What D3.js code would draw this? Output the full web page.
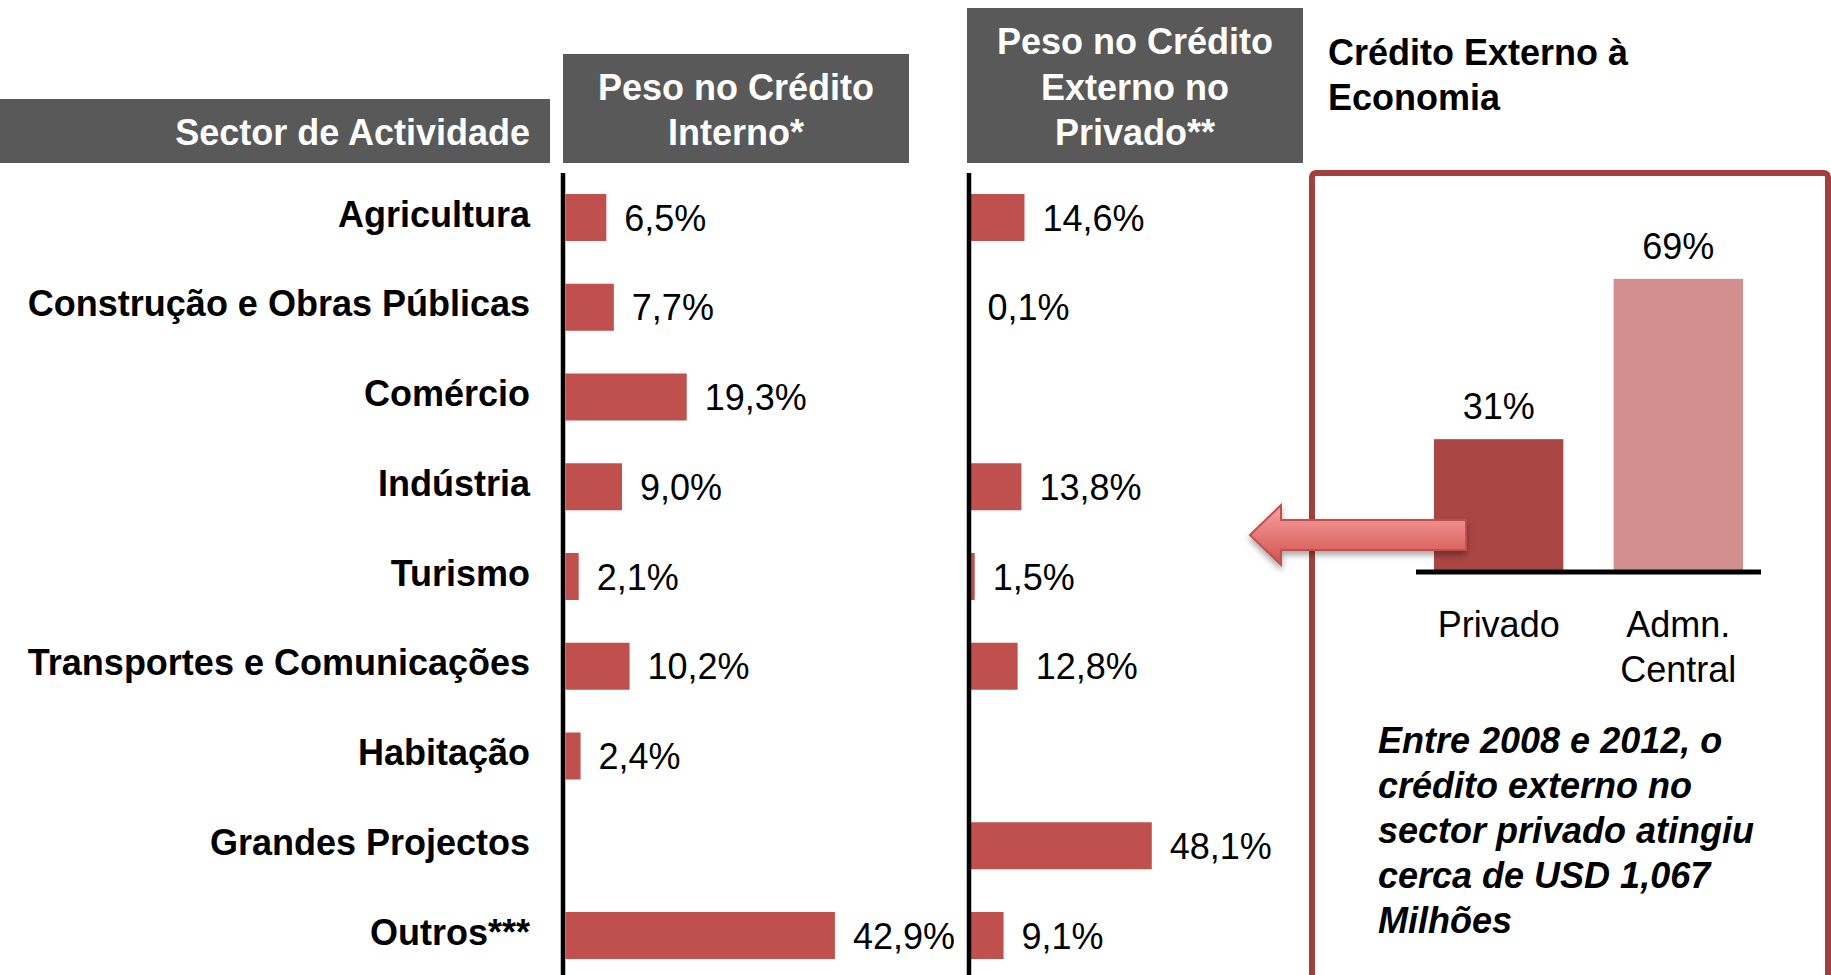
<!DOCTYPE html>
<html>
<head>
<meta charset="utf-8">
<script src="https://cdn.jsdelivr.net/npm/d3@7"></script>
<style>
  body { margin: 0; background: #fff; }
  text { font-family: "Liberation Sans", Arial, sans-serif; }
</style>
</head>
<body>
<script>
var w = 1831;
var h = 975;

// data
var sectors = ["Agricultura", "Construção e Obras Públicas", "Comércio", "Indústria", "Turismo",
  "Transportes e Comunicações", "Habitação", "Grandes Projectos", "Outros***"];
var pesoInterno = [6.5, 7.7, 19.3, 9.0, 2.1, 10.2, 2.4, null, 42.9];
var pesoExterno = [14.6, 0.1, null, 13.8, 1.5, 12.8, null, 48.1, 9.1];
var insetCats = ["Privado", "Admn. Central"];
var insetVals = [31, 69];
var nota = ["Entre 2008 e 2012, o", "crédito externo no", "sector privado atingiu",
  "cerca de USD 1,067", "Milhões"];

var red = "#c0504d";
var grey = "#595959";
var pt = d3.formatLocale({decimal: ",", thousands: ".", grouping: [3], currency: ["", ""]});
var fmt = pt.format(".1f");

var svg = d3.select("body").append("svg")
  .attr("width", w)
  .attr("height", h);

var defs = svg.append("defs");
var grad = defs.append("linearGradient")
  .attr("id", "arrowGrad")
  .attr("x1", 0).attr("y1", 0).attr("x2", 0).attr("y2", 1);
grad.append("stop").attr("offset", "0%").attr("stop-color", "#f9a3a1");
grad.append("stop").attr("offset", "100%").attr("stop-color", "#d2504c");
var shadow = defs.append("filter").attr("id", "shadow")
  .attr("x", "-20%").attr("y", "-30%").attr("width", "140%").attr("height", "180%");
shadow.append("feDropShadow").attr("dx", 0).attr("dy", 4).attr("stdDeviation", 3)
  .attr("flood-color", "#000").attr("flood-opacity", 0.35);

var y = d3.scalePoint()
  .domain(sectors)
  .range([217.5, 935.5]);
var barH = 47;

var xInt = d3.scaleLinear().domain([0, 50]).range([565.5, 879.5]);
var xExt = d3.scaleLinear().domain([0, 50]).range([969, 1159]);

// header boxes
var headers = [
  {x: 0, y: 99, w: 550, h: 64, lines: ["Sector de Actividade"], anchor: "end", tx: 530},
  {x: 563, y: 54, w: 346, h: 109, lines: ["Peso no Crédito", "Interno*"], anchor: "middle", tx: 736},
  {x: 967, y: 8, w: 336, h: 155, lines: ["Peso no Crédito", "Externo no", "Privado**"], anchor: "middle", tx: 1135}
];
var hg = svg.selectAll("g.header")
  .data(headers)
  .join("g")
  .attr("class", "header");
hg.append("rect")
  .attr("x", function(d){ return d.x; })
  .attr("y", function(d){ return d.y; })
  .attr("width", function(d){ return d.w; })
  .attr("height", function(d){ return d.h; })
  .attr("fill", grey);
hg.each(function(d){
  var n = d.lines.length;
  d3.select(this).selectAll("text")
    .data(d.lines)
    .join("text")
    .attr("x", d.tx)
    .attr("y", function(t, i){ return 145 - (n - 1 - i) * 45.5; })
    .attr("text-anchor", d.anchor)
    .attr("fill", "#fff")
    .attr("font-weight", "bold")
    .attr("font-size", 36)
    .text(function(t){ return t; });
});

// category labels
svg.selectAll("text.sector")
  .data(sectors)
  .join("text")
  .attr("class", "sector")
  .attr("x", 530)
  .attr("y", function(d){ return y(d) + 9; })
  .attr("text-anchor", "end")
  .attr("font-weight", "bold")
  .attr("font-size", 36)
  .text(function(d){ return d; });

// bars for both panels
function panel(vals, xs, cls) {
  var rows = sectors.map(function(s, i){ return {s: s, v: vals[i]}; })
    .filter(function(d){ return d.v != null; });
  svg.selectAll("rect." + cls)
    .data(rows)
    .join("rect")
    .attr("class", cls)
    .attr("x", xs(0))
    .attr("y", function(d){ return y(d.s) - barH / 2; })
    .attr("width", function(d){ return xs(d.v) - xs(0); })
    .attr("height", barH)
    .attr("fill", red);
  svg.selectAll("text." + cls)
    .data(rows)
    .join("text")
    .attr("class", cls)
    .attr("x", function(d){ return xs(d.v) + 18; })
    .attr("y", function(d){ return y(d.s) + 13; })
    .attr("font-size", 36)
    .text(function(d){ return fmt(d.v) + "%"; });
}
panel(pesoInterno, xInt, "int");
panel(pesoExterno, xExt, "ext");

// vertical axis lines
svg.selectAll("line.axis")
  .data([563, 969])
  .join("line")
  .attr("class", "axis")
  .attr("x1", function(d){ return d; })
  .attr("x2", function(d){ return d; })
  .attr("y1", 173)
  .attr("y2", h)
  .attr("stroke", "#000")
  .attr("stroke-width", 4.5);

// right hand title
svg.selectAll("text.title")
  .data(["Crédito Externo à", "Economia"])
  .join("text")
  .attr("class", "title")
  .attr("x", 1328)
  .attr("y", function(d, i){ return 65 + i * 45; })
  .attr("font-weight", "bold")
  .attr("font-size", 36)
  .text(function(d){ return d; });

// framed box
svg.append("rect")
  .attr("x", 1312)
  .attr("y", 173)
  .attr("width", 516)
  .attr("height", 900)
  .attr("rx", 4)
  .attr("fill", "none")
  .attr("stroke", "#a33f3d")
  .attr("stroke-width", 6);

// inset bar chart
var xIn = d3.scaleBand().domain(insetCats).range([1416, 1761]).paddingInner(0.28).paddingOuter(0.1);
var yIn = d3.scaleLinear().domain([0, 100]).range([570, 148]);
var insetColors = ["#aa4644", "#d38f8e"];

svg.selectAll("rect.inset")
  .data(insetCats)
  .join("rect")
  .attr("class", "inset")
  .attr("x", function(d){ return xIn(d); })
  .attr("y", function(d, i){ return yIn(insetVals[i]); })
  .attr("width", xIn.bandwidth())
  .attr("height", function(d, i){ return yIn(0) - yIn(insetVals[i]); })
  .attr("fill", function(d, i){ return insetColors[i]; });

svg.selectAll("text.insetVal")
  .data(insetCats)
  .join("text")
  .attr("class", "insetVal")
  .attr("x", function(d){ return xIn(d) + xIn.bandwidth() / 2; })
  .attr("y", function(d, i){ return yIn(insetVals[i]) - 20; })
  .attr("text-anchor", "middle")
  .attr("font-size", 36)
  .text(function(d, i){ return insetVals[i] + "%"; });

svg.append("line")
  .attr("x1", xIn.range()[0])
  .attr("x2", xIn.range()[1])
  .attr("y1", yIn(0) + 2)
  .attr("y2", yIn(0) + 2)
  .attr("stroke", "#000")
  .attr("stroke-width", 5);

svg.selectAll("text.insetCat")
  .data(insetCats)
  .join("text")
  .attr("class", "insetCat")
  .attr("text-anchor", "middle")
  .attr("font-size", 36)
  .each(function(d){
    var words = d.split(" ");
    d3.select(this).selectAll("tspan")
      .data(words)
      .join("tspan")
      .attr("x", xIn(d) + xIn.bandwidth() / 2)
      .attr("y", function(t, i){ return 637 + i * 45; })
      .text(function(t){ return t; });
  });

// italic note
svg.selectAll("text.nota")
  .data(nota)
  .join("text")
  .attr("class", "nota")
  .attr("x", 1378)
  .attr("y", function(d, i){ return 753 + i * 45; })
  .attr("font-weight", "bold")
  .attr("font-style", "italic")
  .attr("font-size", 36)
  .text(function(d){ return d; });

// arrow pointing left
var arrow = [[1466, 520], [1281, 520], [1281, 505], [1250, 535], [1281, 565], [1281, 550], [1466, 550]];
svg.append("path")
  .attr("d", d3.line()(arrow) + "Z")
  .attr("fill", "url(#arrowGrad)")
  .attr("stroke", red)
  .attr("stroke-width", 2)
  .attr("filter", "url(#shadow)");
</script>
</body>
</html>
